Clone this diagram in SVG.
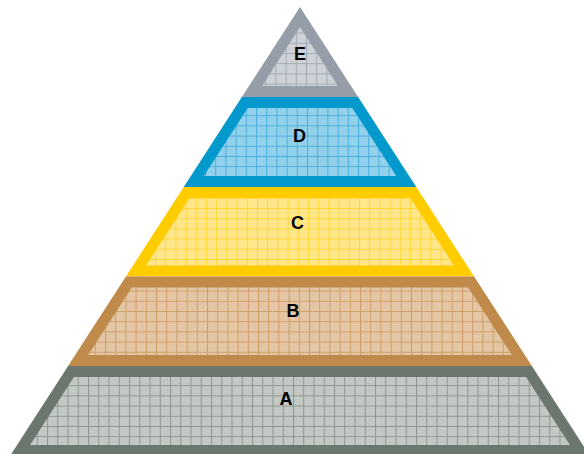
<svg xmlns="http://www.w3.org/2000/svg" width="584" height="454" viewBox="0 0 584 454">
<style>
.lbl{font-family:"Liberation Sans",Arial,sans-serif;font-weight:bold;font-size:18px;fill:#000;text-anchor:middle}
</style>
<defs>
<pattern id="gE" patternUnits="userSpaceOnUse" width="10.2" height="10.2" x="0" y="2">
<rect width="10.2" height="10.2" fill="#cdd2d8"/>
<path d="M0 0.5H10.2M0.5 0V10.2" stroke="#a3aab3" stroke-width="1" fill="none"/>
</pattern>
<pattern id="gD" patternUnits="userSpaceOnUse" width="10.2" height="10.2" x="1" y="3">
<rect width="10.2" height="10.2" fill="#92d1eb"/>
<path d="M0 0.5H10.2M0.5 0V10.2" stroke="#4aafdb" stroke-width="1" fill="none"/>
</pattern>
<pattern id="gC" patternUnits="userSpaceOnUse" width="10.2" height="10.2" x="2" y="4">
<rect width="10.2" height="10.2" fill="#ffe68a"/>
<path d="M0 0.5H10.2M0.5 0V10.2" stroke="#ffd63a" stroke-width="1" fill="none"/>
</pattern>
<pattern id="gB" patternUnits="userSpaceOnUse" width="10.2" height="10.2" x="3" y="5">
<rect width="10.2" height="10.2" fill="#e4c6a4"/>
<path d="M0 0.5H10.2M0.5 0V10.2" stroke="#cd9e6a" stroke-width="1" fill="none"/>
</pattern>
<pattern id="gA" patternUnits="userSpaceOnUse" width="10.25" height="10.2" x="6" y="7.8">
<rect width="10.25" height="10.2" fill="#c2c9c4"/>
<path d="M0 0.5H10.25M0.5 0V10.2" stroke="#8d968f" stroke-width="1" fill="none"/>
</pattern>
</defs>
<rect width="584" height="454" fill="#ffffff"/>
<g id="node-E">
<polygon points="300,7 241.86,97 358.14,97" fill="#959ea8"/>
<polygon points="300,27.1 261.97,86 338.03,86" fill="url(#gE)"/>
<text class="lbl" x="300" y="59.5">E</text>
</g>
<g id="node-D">
<polygon points="241.86,97 358.14,97 416.28,187 183.72,187" fill="#0399cc"/>
<polygon points="247.75,108 352.25,108 396.17,176 203.83,176" fill="url(#gD)"/>
<text class="lbl" x="299.5" y="141.5">D</text>
</g>
<g id="node-C">
<polygon points="183.72,187 416.28,187 474.1,276.5 125.9,276.5" fill="#ffcc00"/>
<polygon points="189.61,198 410.39,198 453.99,265.5 146.01,265.5" fill="url(#gC)"/>
<text class="lbl" x="297.5" y="228.5">C</text>
</g>
<g id="node-B">
<polygon points="125.9,276.5 474.1,276.5 531.9,366 68.1,366" fill="#c08a4b"/>
<polygon points="131.8,287.5 468.2,287.5 511.8,355 88.2,355" fill="url(#gB)"/>
<text class="lbl" x="293" y="317">B</text>
</g>
<g id="node-A">
<polygon points="68.1,366 531.9,366 590.05,456 9.95,456" fill="#6b776e"/>
<polygon points="73.98,377 526.02,377 569.95,445 30.05,445" fill="url(#gA)"/>
<text class="lbl" x="286" y="404.5">A</text>
</g>
</svg>
